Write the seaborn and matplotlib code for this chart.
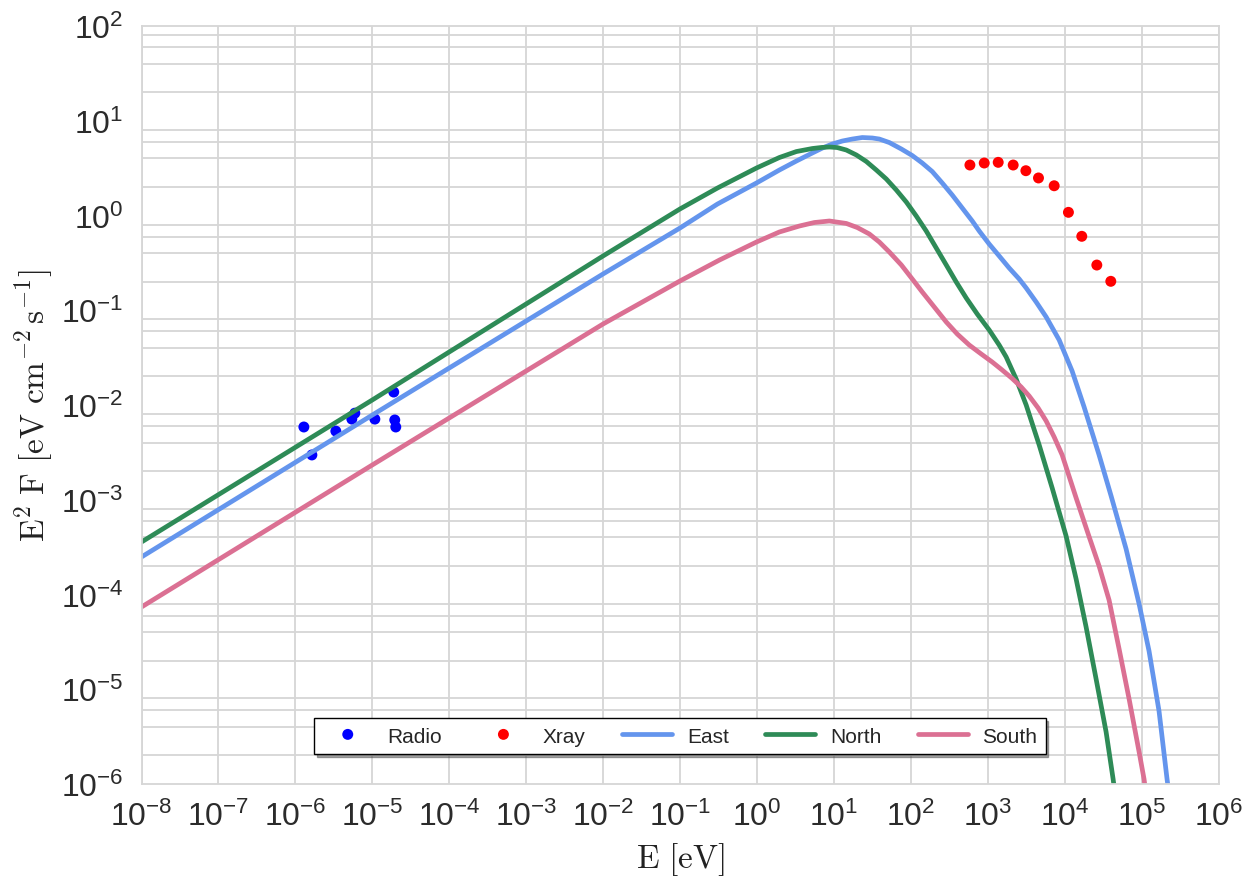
import numpy as np
import matplotlib
matplotlib.use("Agg")
import matplotlib.pyplot as plt
from matplotlib import font_manager
from matplotlib.ticker import FixedLocator, NullFormatter, NullLocator
import seaborn as sns

# ---------------- data ----------------
radio_E = [1.29e-6, 1.64e-6, 3.36e-6, 5.42e-6, 5.93e-6, 1.08e-5, 1.90e-5, 1.96e-5, 2.02e-5]
radio_F = [5.86e-3, 2.97e-3, 5.3e-3, 7.1e-3, 8.2e-3, 7.1e-3, 1.37e-2, 6.95e-3, 5.86e-3]

xray_E = [587, 901, 1369, 2143, 3134, 4571, 7310, 11200, 16700, 26200, 39800]
xray_F = [3.41, 3.58, 3.64, 3.41, 2.97, 2.49, 2.06, 1.08, 0.603, 0.30, 0.202]

# model curves, given as log10(E [eV]) and log10(E^2 F [eV cm^-2 s^-1])
east_logE = [-8.0, -5.0, -2.0, -1.0, -0.513, -0.006, 0.292, 0.513, 0.721, 0.851,
             0.981, 1.110, 1.240, 1.370, 1.500, 1.591, 1.721, 1.877, 2.019, 2.149,
             2.279, 2.409, 2.539, 2.669, 2.799, 2.890, 3.019, 3.149, 3.279, 3.409,
             3.500, 3.630, 3.760, 3.929, 4.097, 4.253, 4.448, 4.604, 4.799, 4.968,
             5.097, 5.227, 5.331, 5.357]
east_logF = [-3.604, -2.106, -0.617, -0.132, 0.121, 0.343, 0.480, 0.575, 0.660, 0.712,
             0.755, 0.786, 0.807, 0.823, 0.818, 0.807, 0.770, 0.702, 0.633, 0.554,
             0.464, 0.343, 0.216, 0.079, -0.058, -0.164, -0.301, -0.427, -0.554, -0.670,
             -0.765, -0.913, -1.071, -1.314, -1.641, -2.021, -2.528, -2.960, -3.520, -4.100,
             -4.596, -5.230, -5.947, -6.106]

north_logE = [-8.0, -5.0, -2.0, -1.0, -0.513, -0.006, 0.292, 0.513, 0.721, 0.838,
              0.942, 1.045, 1.162, 1.292, 1.422, 1.552, 1.682, 1.812, 1.942, 2.071,
              2.201, 2.331, 2.461, 2.591, 2.721, 2.864, 3.019, 3.149, 3.240, 3.370,
              3.500, 3.669, 3.838, 4.019, 4.149, 4.279, 4.409, 4.539, 4.630, 4.656]
north_logF = [-3.446, -1.947, -0.427, 0.069, 0.290, 0.501, 0.612, 0.675, 0.707, 0.718,
              0.723, 0.717, 0.691, 0.639, 0.570, 0.480, 0.385, 0.269, 0.142, -0.005,
              -0.164, -0.343, -0.522, -0.702, -0.871, -1.040, -1.208, -1.367, -1.493, -1.726,
              -2.000, -2.422, -2.876, -3.383, -3.836, -4.343, -4.892, -5.451, -5.947, -6.106]

south_logE = [-8.0, -5.0, -2.0, -1.0, -0.487, -0.006, 0.292, 0.552, 0.747, 0.942,
              1.162, 1.305, 1.461, 1.591, 1.721, 1.877, 2.019, 2.149, 2.279, 2.461,
              2.604, 2.760, 2.916, 3.058, 3.188, 3.318, 3.435, 3.539, 3.656, 3.760,
              3.864, 3.968, 4.149, 4.318, 4.448, 4.578, 4.708, 4.838, 4.968, 5.032,
              5.058]
south_logF = [-4.132, -2.633, -1.145, -0.691, -0.470, -0.280, -0.174, -0.111, -0.074, -0.058,
              -0.084, -0.127, -0.195, -0.280, -0.385, -0.522, -0.670, -0.807, -0.939, -1.124,
              -1.251, -1.367, -1.462, -1.546, -1.631, -1.720, -1.810, -1.905, -2.032, -2.169,
              -2.338, -2.528, -2.980, -3.390, -3.700, -4.060, -4.575, -5.103, -5.662, -5.947,
              -6.106]

series_names = ["East", "North", "South"]
series_colors = ["#6495ED", "#2E8B57", "#DB7093"]

xtick_values = [1e-8, 1e-7, 1e-6, 1e-5, 1e-4, 1e-3, 1e-2, 1e-1, 1e0, 1e1, 1e2, 1e3, 1e4, 1e5, 1e6]
xtick_labels = [r"$10^{-8}$", r"$10^{-7}$", r"$10^{-6}$", r"$10^{-5}$", r"$10^{-4}$",
                r"$10^{-3}$", r"$10^{-2}$", r"$10^{-1}$", r"$10^{0}$", r"$10^{1}$",
                r"$10^{2}$", r"$10^{3}$", r"$10^{4}$", r"$10^{5}$", r"$10^{6}$"]
ytick_values = [1e-6, 1e-5, 1e-4, 1e-3, 1e-2, 1e-1, 1e0, 1e1, 1e2]
ytick_labels = [r"$10^{-6}$", r"$10^{-5}$", r"$10^{-4}$", r"$10^{-3}$", r"$10^{-2}$",
                r"$10^{-1}$", r"$10^{0}$", r"$10^{1}$", r"$10^{2}$"]

# ---------------- style ----------------
sns.set_style("white")
avail = {f.name for f in font_manager.fontManager.ttflist}
narrow = "Liberation Sans Narrow" in avail
tick_font = "Liberation Sans Narrow" if narrow else "Liberation Sans"
tick_size = 25 if narrow else 23
leg_size = 18 if narrow else 15

plt.rcParams["font.family"] = [tick_font, "DejaVu Sans"]
plt.rcParams["mathtext.fontset"] = "custom"
plt.rcParams["mathtext.rm"] = tick_font
plt.rcParams["mathtext.it"] = tick_font + ":italic"
plt.rcParams["mathtext.bf"] = tick_font + ":bold"

grid_color = "#d6d6d6"

fig = plt.figure(figsize=(12.45, 8.79), dpi=100)
W, H = 1245, 879
ax = fig.add_axes([141.5 / W, 1 - 785 / H, (1218.5 - 141.5) / W, (785 - 27) / H])
ax.set_xscale("log")
ax.set_yscale("log")

sns.scatterplot(x=radio_E, y=radio_F, color="#0000FF", s=62, edgecolor="none",
                label="Radio", ax=ax)
sns.scatterplot(x=xray_E, y=xray_F, color="#FF0000", s=62, edgecolor="none",
                label="Xray", ax=ax)
for name, lx, ly, col in zip(series_names,
                             [east_logE, north_logE, south_logE],
                             [east_logF, north_logF, south_logF],
                             series_colors):
    sns.lineplot(x=np.power(10.0, lx), y=np.power(10.0, ly), color=col, lw=3.4,
                 label=name, sort=False, estimator=None, ax=ax,
                 solid_joinstyle="round", solid_capstyle="round")

ax.set_xlim(1e-8, 1e6)
ax.set_ylim(1e-6, 1e2)

ax.xaxis.set_major_locator(FixedLocator(xtick_values))
ax.set_xticklabels(xtick_labels)
ax.xaxis.set_minor_locator(NullLocator())
ax.yaxis.set_major_locator(FixedLocator(ytick_values))
ax.set_yticklabels(ytick_labels)
y_minor = [k * 10.0 ** n for n in range(-6, 2) for k in (2, 4, 6, 8)]
ax.yaxis.set_minor_locator(FixedLocator(y_minor))
ax.yaxis.set_minor_formatter(NullFormatter())

ax.tick_params(which="both", length=0)
ax.tick_params(axis="x", pad=12, labelsize=tick_size, labelcolor="#2b2b2b")
ax.tick_params(axis="y", pad=13, labelsize=tick_size, labelcolor="#2b2b2b")

ax.grid(False)
ax.xaxis.grid(True, which="major", color=grid_color, lw=1.3)
ax.yaxis.grid(True, which="minor", color=grid_color, lw=1.3)
ax.set_axisbelow(True)
for sp in ax.spines.values():
    sp.set_color(grid_color)
    sp.set_linewidth(1.3)

ax.set_xlabel(r"$\mathrm{E\ [eV]}$", fontsize=24, math_fontfamily="cm", color="#222222")
ax.xaxis.set_label_coords(0.5, -0.0745)
ax.set_ylabel(r"$\mathrm{E^{2}\ F\ [eV\ cm^{-2}\,s^{-1}]}$", fontsize=24,
              math_fontfamily="cm", color="#222222")
ax.yaxis.set_label_coords(-0.08, 0.5)

leg = ax.legend(loc="lower center", bbox_to_anchor=(0.5, 30 / 758), ncol=5,
                frameon=True, fancybox=False, shadow=True, edgecolor="black",
                framealpha=1, prop={"family": tick_font, "size": leg_size},
                handlelength=2.4, handletextpad=0.7, columnspacing=1.75,
                borderpad=0.4, borderaxespad=0, scatteryoffsets=[0.5])
leg.get_frame().set_linewidth(1.0)

fig.savefig("out.png", dpi=100)
